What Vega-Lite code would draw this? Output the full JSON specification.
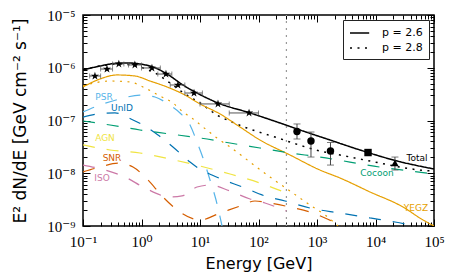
{
  "$schema": "https://vega.github.io/schema/vega-lite/v6.json",
  "width": 351,
  "height": 211,
  "autosize": {"type": "none"},
  "padding": {"left": 83, "top": 15, "right": 24, "bottom": 53},
  "background": "white",
  "datasets": {
    "totals": [
      {"comp": "Total 2.6", "dash": "p = 2.6", "E": 0.1, "F": 9.06e-7},
      {"comp": "Total 2.6", "dash": "p = 2.6", "E": 0.195, "F": 1.079e-6},
      {"comp": "Total 2.6", "dash": "p = 2.6", "E": 0.352, "F": 1.205e-6},
      {"comp": "Total 2.6", "dash": "p = 2.6", "E": 0.635, "F": 1.23e-6},
      {"comp": "Total 2.6", "dash": "p = 2.6", "E": 0.942, "F": 1.178e-6},
      {"comp": "Total 2.6", "dash": "p = 2.6", "E": 1.574, "F": 1.033e-6},
      {"comp": "Total 2.6", "dash": "p = 2.6", "E": 2.73, "F": 7.62e-7},
      {"comp": "Total 2.6", "dash": "p = 2.6", "E": 5.12, "F": 4.71e-7},
      {"comp": "Total 2.6", "dash": "p = 2.6", "E": 8.89, "F": 3.32e-7},
      {"comp": "Total 2.6", "dash": "p = 2.6", "E": 20.3, "F": 2.15e-7},
      {"comp": "Total 2.6", "dash": "p = 2.6", "E": 71.6, "F": 1.39e-7},
      {"comp": "Total 2.6", "dash": "p = 2.6", "E": 233, "F": 8.97e-8},
      {"comp": "Total 2.6", "dash": "p = 2.6", "E": 512, "F": 6.61e-8},
      {"comp": "Total 2.6", "dash": "p = 2.6", "E": 1667, "F": 4.27e-8},
      {"comp": "Total 2.6", "dash": "p = 2.6", "E": 5433, "F": 2.76e-8},
      {"comp": "Total 2.6", "dash": "p = 2.6", "E": 23330, "F": 1.71e-8},
      {"comp": "Total 2.6", "dash": "p = 2.6", "E": 100000, "F": 1.205e-8},
      {"comp": "Total 2.8", "dash": "p = 2.8", "E": 0.1, "F": 9.06e-7},
      {"comp": "Total 2.8", "dash": "p = 2.8", "E": 0.195, "F": 1.079e-6},
      {"comp": "Total 2.8", "dash": "p = 2.8", "E": 0.4285, "F": 1.178e-6},
      {"comp": "Total 2.8", "dash": "p = 2.8", "E": 0.942, "F": 1.033e-6},
      {"comp": "Total 2.8", "dash": "p = 2.8", "E": 1.702, "F": 7.94e-7},
      {"comp": "Total 2.8", "dash": "p = 2.8", "E": 3.07, "F": 5.14e-7},
      {"comp": "Total 2.8", "dash": "p = 2.8", "E": 5.55, "F": 3.18e-7},
      {"comp": "Total 2.8", "dash": "p = 2.8", "E": 10, "F": 2.15e-7},
      {"comp": "Total 2.8", "dash": "p = 2.8", "E": 19.5, "F": 1.27e-7},
      {"comp": "Total 2.8", "dash": "p = 2.8", "E": 35.2, "F": 9.38e-8},
      {"comp": "Total 2.8", "dash": "p = 2.8", "E": 63.5, "F": 7.21e-8},
      {"comp": "Total 2.8", "dash": "p = 2.8", "E": 114.8, "F": 5.79e-8},
      {"comp": "Total 2.8", "dash": "p = 2.8", "E": 215, "F": 4.66e-8},
      {"comp": "Total 2.8", "dash": "p = 2.8", "E": 389, "F": 3.74e-8},
      {"comp": "Total 2.8", "dash": "p = 2.8", "E": 1125, "F": 2.64e-8},
      {"comp": "Total 2.8", "dash": "p = 2.8", "E": 2472, "F": 2.22e-8},
      {"comp": "Total 2.8", "dash": "p = 2.8", "E": 5433, "F": 1.86e-8},
      {"comp": "Total 2.8", "dash": "p = 2.8", "E": 11940, "F": 1.56e-8},
      {"comp": "Total 2.8", "dash": "p = 2.8", "E": 26240, "F": 1.31e-8},
      {"comp": "Total 2.8", "dash": "p = 2.8", "E": 57670, "F": 1.15e-8},
      {"comp": "Total 2.8", "dash": "p = 2.8", "E": 100000, "F": 1.1e-8}
    ],
    "comps": [
      {"comp": "YEGZ 2.6", "dash": "p = 2.6", "E": 0.1, "F": 4.32e-7},
      {"comp": "YEGZ 2.6", "dash": "p = 2.6", "E": 0.195, "F": 6.12e-7},
      {"comp": "YEGZ 2.6", "dash": "p = 2.6", "E": 0.381, "F": 7.3e-7},
      {"comp": "YEGZ 2.6", "dash": "p = 2.6", "E": 0.774, "F": 6.98e-7},
      {"comp": "YEGZ 2.6", "dash": "p = 2.6", "E": 1.396, "F": 5.61e-7},
      {"comp": "YEGZ 2.6", "dash": "p = 2.6", "E": 2.73, "F": 4.32e-7},
      {"comp": "YEGZ 2.6", "dash": "p = 2.6", "E": 5.12, "F": 3.18e-7},
      {"comp": "YEGZ 2.6", "dash": "p = 2.6", "E": 10, "F": 2.06e-7},
      {"comp": "YEGZ 2.6", "dash": "p = 2.6", "E": 22, "F": 1.33e-7},
      {"comp": "YEGZ 2.6", "dash": "p = 2.6", "E": 48.3, "F": 7.53e-8},
      {"comp": "YEGZ 2.6", "dash": "p = 2.6", "E": 106, "F": 4.27e-8},
      {"comp": "YEGZ 2.6", "dash": "p = 2.6", "E": 345, "F": 2.22e-8},
      {"comp": "YEGZ 2.6", "dash": "p = 2.6", "E": 1125, "F": 1.15e-8},
      {"comp": "YEGZ 2.6", "dash": "p = 2.6", "E": 2472, "F": 8.13e-9},
      {"comp": "YEGZ 2.6", "dash": "p = 2.6", "E": 8054, "F": 4.42e-9},
      {"comp": "YEGZ 2.6", "dash": "p = 2.6", "E": 29510, "F": 2.29e-9},
      {"comp": "YEGZ 2.6", "dash": "p = 2.6", "E": 64860, "F": 1.3e-9},
      {"comp": "YEGZ 2.6", "dash": "p = 2.6", "E": 100000, "F": 1.0e-9},
      {"comp": "YEGZ 2.8", "dash": "p = 2.8", "E": 0.1, "F": 4.51e-7},
      {"comp": "YEGZ 2.8", "dash": "p = 2.8", "E": 0.1318, "F": 4.92e-7},
      {"comp": "YEGZ 2.8", "dash": "p = 2.8", "E": 0.2897, "F": 5.61e-7},
      {"comp": "YEGZ 2.8", "dash": "p = 2.8", "E": 0.635, "F": 5.37e-7},
      {"comp": "YEGZ 2.8", "dash": "p = 2.8", "E": 1.148, "F": 4.13e-7},
      {"comp": "YEGZ 2.8", "dash": "p = 2.8", "E": 2.07, "F": 2.91e-7},
      {"comp": "YEGZ 2.8", "dash": "p = 2.8", "E": 3.45, "F": 2.15e-7},
      {"comp": "YEGZ 2.8", "dash": "p = 2.8", "E": 5.12, "F": 1.45e-7},
      {"comp": "YEGZ 2.8", "dash": "p = 2.8", "E": 7.29, "F": 1.11e-7},
      {"comp": "YEGZ 2.8", "dash": "p = 2.8", "E": 11.25, "F": 7.53e-8},
      {"comp": "YEGZ 2.8", "dash": "p = 2.8", "E": 19.5, "F": 4.66e-8},
      {"comp": "YEGZ 2.8", "dash": "p = 2.8", "E": 32.6, "F": 3.15e-8},
      {"comp": "YEGZ 2.8", "dash": "p = 2.8", "E": 71.6, "F": 1.63e-8},
      {"comp": "YEGZ 2.8", "dash": "p = 2.8", "E": 157, "F": 8.49e-9},
      {"comp": "YEGZ 2.8", "dash": "p = 2.8", "E": 345, "F": 4.61e-9},
      {"comp": "YEGZ 2.8", "dash": "p = 2.8", "E": 759, "F": 2.5e-9},
      {"comp": "YEGZ 2.8", "dash": "p = 2.8", "E": 1371, "F": 1.62e-9},
      {"comp": "YEGZ 2.8", "dash": "p = 2.8", "E": 2286, "F": 1.0e-9},
      {"comp": "PSR", "dash": "dashed", "E": 0.1, "F": 1.45e-7},
      {"comp": "PSR", "dash": "dashed", "E": 0.195, "F": 1.97e-7},
      {"comp": "PSR", "dash": "dashed", "E": 0.4285, "F": 2.56e-7},
      {"comp": "PSR", "dash": "dashed", "E": 0.942, "F": 3.04e-7},
      {"comp": "PSR", "dash": "dashed", "E": 1.702, "F": 2.79e-7},
      {"comp": "PSR", "dash": "dashed", "E": 2.84, "F": 2.06e-7},
      {"comp": "PSR", "dash": "dashed", "E": 4.55, "F": 1.39e-7},
      {"comp": "PSR", "dash": "dashed", "E": 6.75, "F": 8.22e-8},
      {"comp": "PSR", "dash": "dashed", "E": 8.89, "F": 3.91e-8},
      {"comp": "PSR", "dash": "dashed", "E": 11.25, "F": 1.95e-8},
      {"comp": "PSR", "dash": "dashed", "E": 14.83, "F": 7.45e-9},
      {"comp": "PSR", "dash": "dashed", "E": 18.8, "F": 3.11e-9},
      {"comp": "PSR", "dash": "dashed", "E": 23.8, "F": 1.0e-9},
      {"comp": "UnID", "dash": "dashed", "E": 0.1, "F": 1.16e-7},
      {"comp": "UnID", "dash": "dashed", "E": 0.18, "F": 1.33e-7},
      {"comp": "UnID", "dash": "dashed", "E": 0.352, "F": 1.39e-7},
      {"comp": "UnID", "dash": "dashed", "E": 0.716, "F": 1.02e-7},
      {"comp": "UnID", "dash": "dashed", "E": 1.061, "F": 8.22e-8},
      {"comp": "UnID", "dash": "dashed", "E": 1.914, "F": 5.31e-8},
      {"comp": "UnID", "dash": "dashed", "E": 3.45, "F": 3.15e-8},
      {"comp": "UnID", "dash": "dashed", "E": 6.75, "F": 1.63e-8},
      {"comp": "UnID", "dash": "dashed", "E": 9.25, "F": 1.26e-8},
      {"comp": "UnID", "dash": "dashed", "E": 16, "F": 9.27e-9},
      {"comp": "UnID", "dash": "dashed", "E": 58.8, "F": 5.25e-9},
      {"comp": "UnID", "dash": "dashed", "E": 129, "F": 3.71e-9},
      {"comp": "UnID", "dash": "dashed", "E": 284, "F": 2.98e-9},
      {"comp": "UnID", "dash": "dashed", "E": 759, "F": 2.19e-9},
      {"comp": "UnID", "dash": "dashed", "E": 2472, "F": 1.76e-9},
      {"comp": "UnID", "dash": "dashed", "E": 8054, "F": 1.42e-9},
      {"comp": "UnID", "dash": "dashed", "E": 21530, "F": 1.19e-9},
      {"comp": "UnID", "dash": "dashed", "E": 47300, "F": 1.0e-9},
      {"comp": "Cocoon", "dash": "dashed", "E": 0.1, "F": 9.79e-8},
      {"comp": "Cocoon", "dash": "dashed", "E": 0.2897, "F": 8.22e-8},
      {"comp": "Cocoon", "dash": "dashed", "E": 0.942, "F": 6.61e-8},
      {"comp": "Cocoon", "dash": "dashed", "E": 3.07, "F": 5.55e-8},
      {"comp": "Cocoon", "dash": "dashed", "E": 10, "F": 4.66e-8},
      {"comp": "Cocoon", "dash": "dashed", "E": 32.6, "F": 3.74e-8},
      {"comp": "Cocoon", "dash": "dashed", "E": 106, "F": 3.01e-8},
      {"comp": "Cocoon", "dash": "dashed", "E": 345, "F": 2.42e-8},
      {"comp": "Cocoon", "dash": "dashed", "E": 1125, "F": 2.03e-8},
      {"comp": "Cocoon", "dash": "dashed", "E": 3664, "F": 1.63e-8},
      {"comp": "Cocoon", "dash": "dashed", "E": 11940, "F": 1.31e-8},
      {"comp": "Cocoon", "dash": "dashed", "E": 38900, "F": 1.1e-8},
      {"comp": "Cocoon", "dash": "dashed", "E": 100000, "F": 9.68e-9},
      {"comp": "AGN", "dash": "dashed", "E": 0.1, "F": 3.44e-8},
      {"comp": "AGN", "dash": "dashed", "E": 0.2897, "F": 2.76e-8},
      {"comp": "AGN", "dash": "dashed", "E": 0.942, "F": 2.42e-8},
      {"comp": "AGN", "dash": "dashed", "E": 3.07, "F": 1.86e-8},
      {"comp": "AGN", "dash": "dashed", "E": 10, "F": 1.37e-8},
      {"comp": "AGN", "dash": "dashed", "E": 32.6, "F": 9.68e-9},
      {"comp": "AGN", "dash": "dashed", "E": 106, "F": 6.53e-9},
      {"comp": "AGN", "dash": "dashed", "E": 300, "F": 4.23e-9},
      {"comp": "SNR", "dash": "dashed", "E": 0.1, "F": 1.06e-8},
      {"comp": "SNR", "dash": "dashed", "E": 0.195, "F": 1.31e-8},
      {"comp": "SNR", "dash": "dashed", "E": 0.396, "F": 1.56e-8},
      {"comp": "SNR", "dash": "dashed", "E": 0.716, "F": 1.31e-8},
      {"comp": "SNR", "dash": "dashed", "E": 1.242, "F": 7.78e-9},
      {"comp": "SNR", "dash": "dashed", "E": 2.33, "F": 3.55e-9},
      {"comp": "SNR", "dash": "dashed", "E": 4.55, "F": 1.84e-9},
      {"comp": "SNR", "dash": "dashed", "E": 10, "F": 1.3e-9},
      {"comp": "SNR", "dash": "dashed", "E": 22, "F": 1.76e-9},
      {"comp": "SNR", "dash": "dashed", "E": 48.3, "F": 2.39e-9},
      {"comp": "SNR", "dash": "dashed", "E": 87.1, "F": 2.98e-9},
      {"comp": "SNR", "dash": "dashed", "E": 157, "F": 2.73e-9},
      {"comp": "SNR", "dash": "dashed", "E": 345, "F": 2.29e-9},
      {"comp": "SNR", "dash": "dashed", "E": 759, "F": 1.84e-9},
      {"comp": "SNR", "dash": "dashed", "E": 1371, "F": 1.42e-9},
      {"comp": "SNR", "dash": "dashed", "E": 2673, "F": 1.0e-9},
      {"comp": "ISO", "dash": "dashed", "E": 0.1, "F": 1.43e-8},
      {"comp": "ISO", "dash": "dashed", "E": 0.2377, "F": 1.15e-8},
      {"comp": "ISO", "dash": "dashed", "E": 0.522, "F": 8.49e-9},
      {"comp": "ISO", "dash": "dashed", "E": 1.148, "F": 5.25e-9},
      {"comp": "ISO", "dash": "dashed", "E": 3.07, "F": 3.55e-9},
      {"comp": "ISO", "dash": "dashed", "E": 4.92, "F": 3.71e-9},
      {"comp": "ISO", "dash": "dashed", "E": 8.89, "F": 5.48e-9},
      {"comp": "ISO", "dash": "dashed", "E": 14.83, "F": 5.98e-9},
      {"comp": "ISO", "dash": "dashed", "E": 32.6, "F": 4.6e-9},
      {"comp": "ISO", "dash": "dashed", "E": 71.6, "F": 3.25e-9},
      {"comp": "ISO", "dash": "dashed", "E": 129, "F": 2.73e-9},
      {"comp": "ISO", "dash": "dashed", "E": 300, "F": 1.92e-9}
    ],
    "stars": [
      {"E": 0.16, "F": 6.98e-7, "Elo": 0.13, "Ehi": 0.2},
      {"E": 0.257, "F": 9.46e-7, "Elo": 0.2, "Ehi": 0.32},
      {"E": 0.41, "F": 1.18e-6, "Elo": 0.32, "Ehi": 0.5},
      {"E": 0.77, "F": 1.13e-6, "Elo": 0.6, "Ehi": 1.0},
      {"E": 1.51, "F": 9.9e-7, "Elo": 1.0, "Ehi": 2.1},
      {"E": 2.62, "F": 7.6e-7, "Elo": 1.9, "Ehi": 3.3},
      {"E": 4.2, "F": 4.71e-7, "Elo": 3.1, "Ehi": 5.5},
      {"E": 7.9, "F": 3.32e-7, "Elo": 5.5, "Ehi": 11},
      {"E": 20.3, "F": 2.06e-7, "Elo": 10, "Ehi": 31.6},
      {"E": 68.9, "F": 1.39e-7, "Elo": 31.6, "Ehi": 100}
    ],
    "pts": [
      {"set": "A", "E": 455, "F": 6.2e-8},
      {"set": "A", "E": 789, "F": 4.08e-8},
      {"set": "A", "E": 1700, "F": 2.64e-8},
      {"set": "B", "E": 7450, "F": 2.47e-8},
      {"set": "C", "E": 21500, "F": 1.56e-8}
    ],
    "perr": [
      {"E": 455, "Flo": 4.46e-8, "Fhi": 8.6e-8},
      {"E": 789, "Flo": 2.03e-8, "Fhi": 6.05e-8},
      {"E": 1700, "Flo": 1.43e-8, "Fhi": 3.83e-8},
      {"E": 21500, "Flo": 1.15e-8, "Fhi": 2.03e-8}
    ],
    "labels": [
      {"text": "PSR", "comp": "PSR", "E": 0.2286, "F": 2.79e-7},
      {"text": "UnID", "comp": "UnID", "E": 0.464, "F": 1.73e-7},
      {"text": "AGN", "comp": "AGN", "E": 0.2377, "F": 4.66e-8},
      {"text": "SNR", "comp": "SNR", "E": 0.313, "F": 1.95e-8},
      {"text": "ISO", "comp": "ISO", "E": 0.2113, "F": 8.13e-9},
      {"text": "Total", "comp": "Total 2.6", "E": 51200, "F": 1.95e-8},
      {"text": "Cocoon", "comp": "Cocoon", "E": 10600, "F": 1.01e-8},
      {"text": "YEGZ", "comp": "YEGZ 2.6", "E": 49200, "F": 2.19e-9}
    ],
    "vline": [{"E": 300, "F": 1e-9}, {"E": 300, "F": 1e-5}]
  },
  "resolve": {"axis": {"x": "independent", "y": "independent"}},
  "layer": [
    {
      "data": {"name": "vline"},
      "mark": {"type": "line", "color": "#999999", "strokeWidth": 1.2, "strokeDash": [2, 5]},
      "encoding": {
        "x": {"field": "E", "type": "quantitative", "scale": {"type": "log", "domain": [0.1, 100000], "nice": false}, "axis": null},
        "y": {"field": "F", "type": "quantitative", "scale": {"type": "log", "domain": [1e-9, 1e-5], "nice": false}, "axis": null},
        "order": {"field": "F", "type": "quantitative"}
      }
    },
    {
      "data": {"name": "totals"},
      "mark": {"type": "line", "strokeWidth": 1.5, "clip": true, "interpolate": "monotone"},
      "encoding": {
        "x": {"field": "E", "type": "quantitative", "scale": {"type": "log", "domain": [0.1, 100000], "nice": false},
          "axis": {"orient": "bottom", "values": [0.1, 1, 10, 100, 1000, 10000, 100000], "tickSize": -7, "labelPadding": 15, "labelBaseline": "top", "labelFlush": false, "labelOverlap": false,
            "labelExpr": "'10' + replace(replace(replace(replace(replace(replace(replace(replace(replace(replace(replace(toString(round(log(datum.value)/LN10)),'-','⁻'),'0','⁰'),'1','¹'),'2','²'),'3','³'),'4','⁴'),'5','⁵'),'6','⁶'),'7','⁷'),'8','⁸'),'9','⁹')",
            "title": "Energy [GeV]", "titlePadding": 6}},
        "y": {"field": "F", "type": "quantitative", "scale": {"type": "log", "domain": [1e-9, 1e-5], "nice": false},
          "axis": {"orient": "left", "values": [1e-9, 1e-8, 1e-7, 1e-6, 1e-5], "tickSize": -7, "labelPadding": 15, "labelFlush": false, "labelOverlap": false,
            "labelExpr": "'10' + replace(replace(replace(replace(replace(replace(replace(replace(replace(replace(replace(toString(round(log(datum.value)/LN10)),'-','⁻'),'0','⁰'),'1','¹'),'2','²'),'3','³'),'4','⁴'),'5','⁵'),'6','⁶'),'7','⁷'),'8','⁸'),'9','⁹')",
            "title": "E² dN/dE [GeV cm⁻² s⁻¹]", "titleFontSize": 17, "titlePadding": 17}},
        "color": {"field": "comp", "type": "nominal", "legend": null,
          "scale": {"domain": ["Total 2.6", "Total 2.8", "YEGZ 2.6", "YEGZ 2.8", "PSR", "UnID", "Cocoon", "AGN", "SNR", "ISO"],
            "range": ["#000000", "#000000", "#E69F00", "#E69F00", "#56B4E9", "#0072B2", "#009E73", "#F0E442", "#D55E00", "#CC79A7"]}},
        "strokeDash": {"field": "dash", "type": "nominal",
          "scale": {"domain": ["p = 2.6", "p = 2.8", "dashed"], "range": [[1, 0], [2, 5.5], [12, 12]]},
          "legend": {"title": null, "values": ["p = 2.6", "p = 2.8"]}}
      }
    },
    {
      "data": {"name": "comps"},
      "mark": {"type": "line", "strokeWidth": 1.2, "clip": true, "interpolate": "monotone"},
      "encoding": {
        "x": {"field": "E", "type": "quantitative", "scale": {"type": "log", "domain": [0.1, 100000], "nice": false},
          "axis": {"orient": "bottom", "values": [0.2,0.3,0.4,0.5,0.6,0.7,0.8,0.9,2,3,4,5,6,7,8,9,20,30,40,50,60,70,80,90,200,300,400,500,600,700,800,900,2000,3000,4000,5000,6000,7000,8000,9000,20000,30000,40000,50000,60000,70000,80000,90000], "tickSize": -4, "labels": false, "title": null}},
        "y": {"field": "F", "type": "quantitative", "scale": {"type": "log", "domain": [1e-9, 1e-5], "nice": false},
          "axis": {"orient": "left", "values": [2e-9,3e-9,4e-9,5e-9,6e-9,7e-9,8e-9,9e-9,2e-8,3e-8,4e-8,5e-8,6e-8,7e-8,8e-8,9e-8,2e-7,3e-7,4e-7,5e-7,6e-7,7e-7,8e-7,9e-7,2e-6,3e-6,4e-6,5e-6,6e-6,7e-6,8e-6,9e-6], "tickSize": -4, "labels": false, "title": null}},
        "color": {"field": "comp", "type": "nominal", "legend": null},
        "strokeDash": {"field": "dash", "type": "nominal", "legend": null}
      }
    },
    {
      "data": {"name": "stars"},
      "mark": {"type": "rule", "color": "#555555", "strokeWidth": 1},
      "encoding": {
        "x": {"field": "Elo", "type": "quantitative", "scale": {"type": "log", "domain": [0.1, 100000], "nice": false},
          "axis": {"orient": "top", "values": [0.1, 1, 10, 100, 1000, 10000, 100000], "tickSize": -7, "labels": false, "title": null}},
        "x2": {"field": "Ehi"},
        "y": {"field": "F", "type": "quantitative", "scale": {"type": "log", "domain": [1e-9, 1e-5], "nice": false},
          "axis": {"orient": "right", "values": [1e-9, 1e-8, 1e-7, 1e-6, 1e-5], "tickSize": -7, "labels": false, "title": null}}
      }
    },
    {
      "data": {"name": "stars"},
      "transform": [{"fold": ["Elo", "Ehi"], "as": ["side", "Ecap"]}],
      "mark": {"type": "tick", "orient": "vertical", "color": "#555555", "size": 5, "thickness": 1},
      "encoding": {
        "x": {"field": "Ecap", "type": "quantitative", "scale": {"type": "log", "domain": [0.1, 100000], "nice": false}, "axis": null},
        "y": {"field": "F", "type": "quantitative", "scale": {"type": "log", "domain": [1e-9, 1e-5], "nice": false}, "axis": null}
      }
    },
    {
      "data": {"name": "stars"},
      "mark": {"type": "point", "shape": "M0,-1L0.2245,-0.309L0.951,-0.309L0.363,0.118L0.588,0.809L0,0.382L-0.588,0.809L-0.363,0.118L-0.951,-0.309L-0.2245,-0.309Z", "filled": true, "color": "black", "opacity": 1, "size": 75},
      "encoding": {
        "x": {"field": "E", "type": "quantitative", "scale": {"type": "log", "domain": [0.1, 100000], "nice": false},
          "axis": {"orient": "top", "values": [0.2,0.3,0.4,0.5,0.6,0.7,0.8,0.9,2,3,4,5,6,7,8,9,20,30,40,50,60,70,80,90,200,300,400,500,600,700,800,900,2000,3000,4000,5000,6000,7000,8000,9000,20000,30000,40000,50000,60000,70000,80000,90000], "tickSize": -4, "labels": false, "title": null}},
        "y": {"field": "F", "type": "quantitative", "scale": {"type": "log", "domain": [1e-9, 1e-5], "nice": false},
          "axis": {"orient": "right", "values": [2e-9,3e-9,4e-9,5e-9,6e-9,7e-9,8e-9,9e-9,2e-8,3e-8,4e-8,5e-8,6e-8,7e-8,8e-8,9e-8,2e-7,3e-7,4e-7,5e-7,6e-7,7e-7,8e-7,9e-7,2e-6,3e-6,4e-6,5e-6,6e-6,7e-6,8e-6,9e-6], "tickSize": -4, "labels": false, "title": null}}
      }
    },
    {
      "data": {"name": "perr"},
      "mark": {"type": "rule", "color": "#444444", "strokeWidth": 1},
      "encoding": {
        "x": {"field": "E", "type": "quantitative", "scale": {"type": "log", "domain": [0.1, 100000], "nice": false}, "axis": null},
        "y": {"field": "Flo", "type": "quantitative", "scale": {"type": "log", "domain": [1e-9, 1e-5], "nice": false}, "axis": null},
        "y2": {"field": "Fhi"}
      }
    },
    {
      "data": {"name": "perr"},
      "transform": [{"fold": ["Flo", "Fhi"], "as": ["side", "Fcap"]}],
      "mark": {"type": "tick", "orient": "horizontal", "color": "#444444", "size": 7, "thickness": 1},
      "encoding": {
        "x": {"field": "E", "type": "quantitative", "scale": {"type": "log", "domain": [0.1, 100000], "nice": false}, "axis": null},
        "y": {"field": "Fcap", "type": "quantitative", "scale": {"type": "log", "domain": [1e-9, 1e-5], "nice": false}, "axis": null}
      }
    },
    {
      "data": {"name": "pts"},
      "mark": {"type": "point", "filled": true, "color": "black", "opacity": 1, "size": 55},
      "encoding": {
        "x": {"field": "E", "type": "quantitative", "scale": {"type": "log", "domain": [0.1, 100000], "nice": false}, "axis": null},
        "y": {"field": "F", "type": "quantitative", "scale": {"type": "log", "domain": [1e-9, 1e-5], "nice": false}, "axis": null},
        "shape": {"field": "set", "type": "nominal", "legend": null, "scale": {"domain": ["A", "B", "C"], "range": ["circle", "square", "triangle-up"]}}
      }
    },
    {
      "data": {"name": "labels"},
      "mark": {"type": "text", "font": "DejaVu Sans", "fontSize": 9, "align": "center", "baseline": "middle"},
      "encoding": {
        "x": {"field": "E", "type": "quantitative", "scale": {"type": "log", "domain": [0.1, 100000], "nice": false}, "axis": null},
        "y": {"field": "F", "type": "quantitative", "scale": {"type": "log", "domain": [1e-9, 1e-5], "nice": false}, "axis": null},
        "text": {"field": "text"},
        "color": {"field": "comp", "type": "nominal", "legend": null}
      }
    }
  ],
  "config": {
    "view": {"stroke": "black", "strokeWidth": 1.5},
    "axis": {"grid": false, "domain": false, "tickColor": "black", "tickWidth": 1, "labelFont": "Liberation Serif, DejaVu Serif", "labelFontSize": 15, "labelColor": "black", "titleFont": "DejaVu Sans", "titleFontSize": 16, "titleFontWeight": "normal", "titleColor": "black"},
    "legend": {"orient": "top-right", "offset": 5, "strokeColor": "#222222", "fillColor": "white", "padding": 6, "cornerRadius": 0, "labelFont": "DejaVu Sans", "labelFontSize": 11, "labelColor": "black", "symbolType": "M-1,0L2.2,0", "symbolSize": 144, "symbolStrokeWidth": 1.5, "symbolStrokeColor": "black", "symbolFillColor": "transparent", "rowPadding": 3, "labelOffset": 19}
  }
}
